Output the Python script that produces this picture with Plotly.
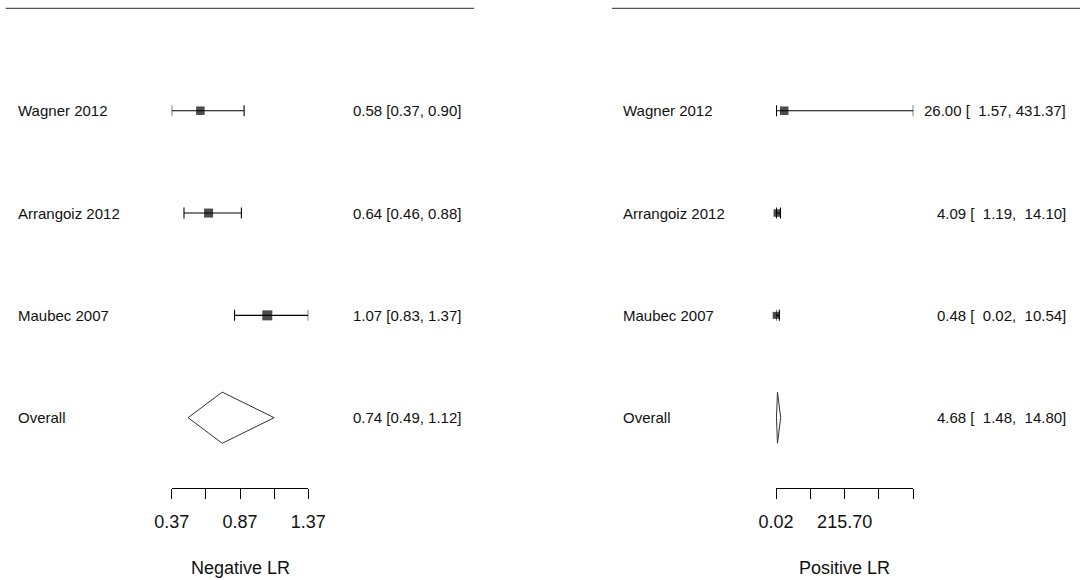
import plotly.graph_objects as go

# ---- data ----
studies = ["Wagner 2012", "Arrangoiz 2012", "Maubec 2007"]

neg_est = [0.58, 0.64, 1.07]
neg_lo = [0.37, 0.46, 0.83]
neg_hi = [0.90, 0.88, 1.37]
neg_overall = [0.74, 0.49, 1.12]  # estimate, lower, upper

pos_est = [26.00, 4.09, 0.48]
pos_lo = [1.57, 1.19, 0.02]
pos_hi = [431.37, 14.10, 10.54]
pos_overall = [4.68, 1.48, 14.80]

neg_ticks = [0.37, 0.62, 0.87, 1.12, 1.37]
neg_ticktext = ["0.37", "", "0.87", "", "1.37"]
pos_ticks = [0.02, 107.86, 215.70, 323.53, 431.37]
pos_ticktext = ["0.02", "", "215.70", "", ""]

# ---- styling ----
W, H = 1080, 580
FONT = "Liberation Sans, Arial, sans-serif"
TXT = "#111111"
neg_square_px = [8.5, 9, 10]
pos_square_px = [8.5, 7.5, 7]
rows = [4, 3, 2]          # study rows, top to bottom
overall_row = 1
header_row = 5
diamond_half = 0.25

fig = go.Figure()


def fmt_neg(e, l, u):
    return f"{e:.2f} [{l:.2f}, {u:.2f}]"


def fmt_pos(e, l, u):
    # numbers right-justified to a width of 6 characters
    def pad(v):
        s = f"{v:.2f}"
        return "\u00a0" * max(0, 6 - len(s)) + s
    return f"{e:.2f} [{pad(l)}, {pad(u)}]"


def add_panel(xref, est, lo, hi, overall, sizes):
    fig.add_trace(go.Scatter(
        x=est, y=rows, xaxis=xref, yaxis="y", mode="markers",
        marker=dict(symbol="square", color="black", size=sizes, line=dict(width=0)),
        error_x=dict(type="data", symmetric=False,
                     array=[h - e for h, e in zip(hi, est)],
                     arrayminus=[e - l for e, l in zip(est, lo)],
                     color="black", thickness=1.1, width=5.5),
        showlegend=False, hoverinfo="skip", cliponaxis=False,
    ))
    e, l, u = overall
    fig.add_trace(go.Scatter(
        x=[l, e, u, e, l],
        y=[overall_row, overall_row + diamond_half, overall_row,
           overall_row - diamond_half, overall_row],
        xaxis=xref, yaxis="y", mode="lines", fill="toself",
        fillcolor="white", line=dict(color="#333333", width=1),
        showlegend=False, hoverinfo="skip",
    ))


add_panel("x", neg_est, neg_lo, neg_hi, neg_overall, neg_square_px)
add_panel("x2", pos_est, pos_lo, pos_hi, pos_overall, pos_square_px)

labels = studies + ["Overall"]
all_rows = rows + [overall_row]
neg_txt = [fmt_neg(*t) for t in zip(neg_est, neg_lo, neg_hi)] + [fmt_neg(*neg_overall)]
pos_txt = [fmt_pos(*t) for t in zip(pos_est, pos_lo, pos_hi)] + [fmt_pos(*pos_overall)]


def label(x, y, text, anchor, size=15, yref="y"):
    return dict(x=x, y=y, xref="paper", yref=yref, text=text,
                xanchor=anchor, yanchor="middle", showarrow=False,
                borderpad=0, font=dict(size=size, color=TXT, family=FONT))


ann = []
for lab, r, nt, pt in zip(labels, all_rows, neg_txt, pos_txt):
    ann.append(label(17 / W, r, lab, "left"))
    ann.append(label(461.7 / W, r, nt, "right"))
    ann.append(label(622 / W, r, lab, "left"))
    ann.append(label(1067 / W, r, pt, "right"))

PLOT_BOTTOM = 488.3
title_y = (PLOT_BOTTOM - 568) / PLOT_BOTTOM
ann.append(label(240 / W, title_y, "Negative LR", "center", size=18, yref="paper"))
ann.append(label(844.7 / W, title_y, "Positive LR", "center", size=18, yref="paper"))

shapes = [
    dict(type="line", xref="paper", yref="y", x0=5.7 / W, x1=474 / W,
         y0=header_row, y1=header_row, line=dict(color="#555555", width=1.3)),
    dict(type="line", xref="paper", yref="y", x0=612 / W, x1=1.0,
         y0=header_row, y1=header_row, line=dict(color="#555555", width=1.3)),
]

axis_common = dict(
    showline=True, linecolor="black", linewidth=1,
    ticks="outside", ticklen=10, tickwidth=1, tickcolor="black",
    showgrid=False, zeroline=False, automargin=False,
    tickfont=dict(size=18, color=TXT, family=FONT),
    ticklabelstandoff=7,
    anchor="y", fixedrange=True,
)

fig.update_layout(
    width=W, height=H,
    margin=dict(l=0, r=0, t=0, b=H - PLOT_BOTTOM, pad=0, autoexpand=False),
    paper_bgcolor="white", plot_bgcolor="white",
    xaxis=dict(domain=[171.7 / W, 308.3 / W], range=[0.37, 1.37],
               tickvals=neg_ticks, ticktext=neg_ticktext, **axis_common),
    xaxis2=dict(domain=[776 / W, 913.3 / W], range=[0.02, 431.37],
                tickvals=pos_ticks, ticktext=pos_ticktext, **axis_common),
    yaxis=dict(range=[0.313, 5.082], visible=False, fixedrange=True,
               automargin=False),
    annotations=ann, shapes=shapes,
)

fig.write_html("out.html")
